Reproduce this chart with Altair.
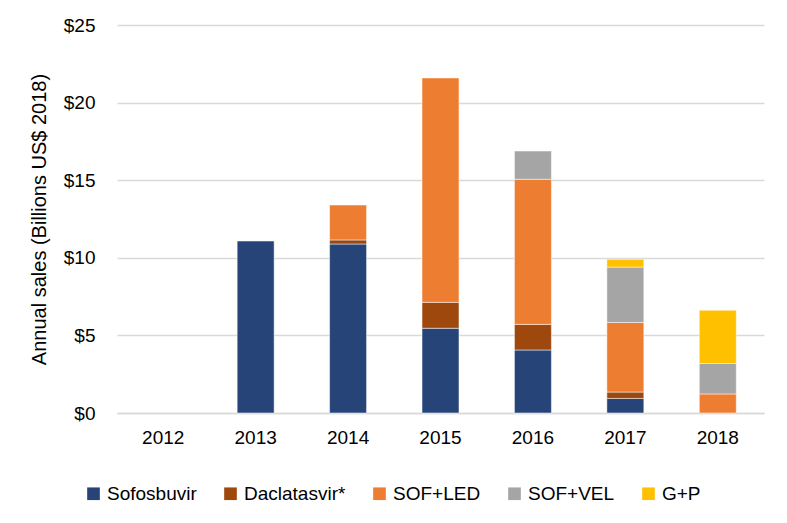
import altair as alt
import pandas as pd

years = ["2012", "2013", "2014", "2015", "2016", "2017", "2018"]
series = ["Sofosbuvir", "Daclatasvir*", "SOF+LED", "SOF+VEL", "G+P"]
colors = ["#264478", "#9E480E", "#ED7D31", "#A5A5A5", "#FFC000"]
sofosbuvir = [0, 11.08, 10.89, 5.46, 4.06, 0.94, 0]
daclatasvir = [0, 0, 0.26, 1.67, 1.65, 0.41, 0]
sof_led = [0, 0, 2.25, 14.46, 9.35, 4.48, 1.23]
sof_vel = [0, 0, 0, 0, 1.82, 3.57, 1.96]
g_p = [0, 0, 0, 0, 0, 0.50, 3.43]

values = [sofosbuvir, daclatasvir, sof_led, sof_vel, g_p]
rows = []
for si, (name, vals) in enumerate(zip(series, values)):
    for y, v in zip(years, vals):
        if v > 0:
            rows.append({"year": y, "drug": name, "sales": v, "order": si})
df = pd.DataFrame(rows)

FONT = "Liberation Sans"

chart = alt.Chart(df).mark_bar(stroke="white", strokeWidth=0.5).encode(
    x=alt.X("year:N", sort=years, title=None,
            scale=alt.Scale(domain=years, paddingInner=0.6, paddingOuter=0.3),
            axis=alt.Axis(labelAngle=0, ticks=False, labelPadding=15,
                          domainColor="#d9d9d9", domainWidth=1.3,
                          labelFontSize=19, labelColor="#000000", labelFont=FONT)),
    y=alt.Y("sales:Q", stack="zero", title="Annual sales (Billions US$ 2018)",
            scale=alt.Scale(domain=[0, 25], nice=False),
            axis=alt.Axis(values=[0, 5, 10, 15, 20, 25], labelExpr="'$' + datum.value",
                          ticks=False, domain=False, labelPadding=22,
                          gridColor="#d9d9d9", gridWidth=1.3,
                          labelFontSize=19, labelColor="#000000", labelFont=FONT,
                          titleFontSize=20, titleFontWeight="normal", titleColor="#000000",
                          titleFont=FONT, titlePadding=14)),
    color=alt.Color("drug:N", sort=series,
                    scale=alt.Scale(domain=series, range=colors),
                    legend=alt.Legend(title=None, orient="none", direction="horizontal",
                                      legendX=-33, legendY=459,
                                      symbolType="square", symbolSize=160,
                                      symbolStrokeWidth=0,
                                      labelFontSize=19, labelFont=FONT, labelColor="#000000",
                                      columnPadding=24, labelOffset=4)),
    order=alt.Order("order:Q", sort="ascending"),
).properties(
    width=647, height=388,
    background="white",
    autosize=alt.AutoSizeParams(type="none"),
    padding={"left": 109, "top": 17, "right": 15, "bottom": 102},
).configure_view(stroke=None)

chart.save("out.html", embed_options={"renderer": "svg", "actions": False})
